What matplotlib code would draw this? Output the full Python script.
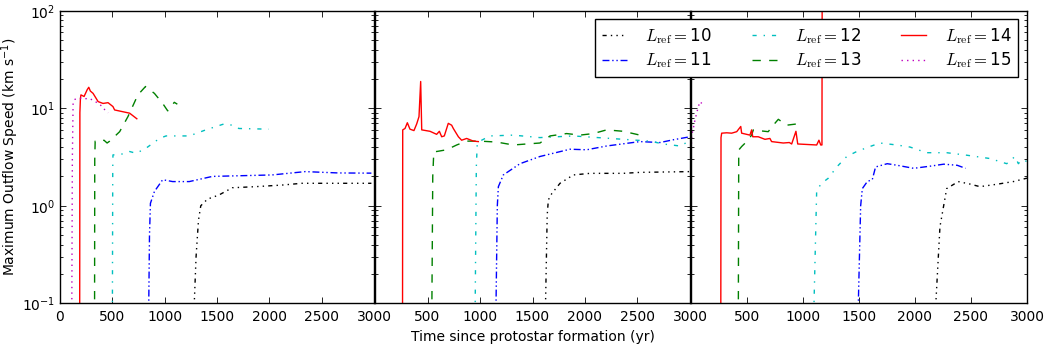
import matplotlib
matplotlib.use("Agg")
import matplotlib.pyplot as plt
from matplotlib.font_manager import FontProperties
from matplotlib.ticker import FixedLocator, LogLocator, NullFormatter

# ---------------- data (time in yr, speed in km/s) ----------------
labels = [r"$L_{\rm ref}=$10", r"$L_{\rm ref}=$11", r"$L_{\rm ref}=$12",
          r"$L_{\rm ref}=$13", r"$L_{\rm ref}=$14", r"$L_{\rm ref}=$15"]
xticks = [0, 500, 1000, 1500, 2000, 2500, 3000]

# Panel 1
t_a10 = [1272, 1300, 1323, 1345, 1409, 1519, 1646, 1868, 2121, 2311, 2975]
v_a10 = [0.05, 0.3, 0.71, 1.0, 1.17, 1.29, 1.53, 1.57, 1.63, 1.70, 1.70]
t_a11 = [845, 855, 864, 902, 981, 1076, 1235, 1456, 2026, 2343, 2659, 2975]
v_a11 = [0.05, 0.5, 1.06, 1.4, 1.85, 1.77, 1.77, 2.0, 2.07, 2.24, 2.17, 2.16]
t_a12 = [500, 504, 506, 600, 665, 728, 823, 950, 1013, 1235, 1393, 1567, 1646, 1709, 1994]
v_a12 = [0.05, 2.5, 3.32, 3.4, 3.6, 3.45, 3.9, 4.9, 5.2, 5.2, 6.0, 6.9, 6.7, 6.2, 6.1]
t_a13 = [330, 332, 336, 380, 420, 450, 475, 570, 649, 744, 817, 902, 981, 1029, 1092, 1121]
v_a13 = [0.05, 3.0, 4.6, 4.5, 4.7, 4.4, 4.6, 5.75, 8.2, 13.7, 16.7, 14.2, 11.2, 9.4, 11.5, 11.0]
t_a14 = [188, 190, 195, 200, 230, 260, 275, 290, 316, 364, 411, 459, 506, 522, 665, 734]
v_a14 = [0.05, 9.0, 12.5, 13.7, 13.2, 15.5, 16.4, 15.0, 14.2, 11.7, 11.2, 11.4, 10.4, 9.6, 8.9, 7.8]
t_a15 = [112, 118, 125, 140, 180, 230, 280, 320, 360, 400, 443, 460]
v_a15 = [0.05, 3.0, 11.0, 12.3, 12.7, 12.5, 12.6, 12.0, 11.3, 10.5, 9.2, 9.0]

# Panel 2
t_b10 = [1619, 1640, 1651, 1683, 1762, 1889, 2048, 2365, 2524, 3000]
v_b10 = [0.05, 0.8, 1.15, 1.33, 1.7, 2.07, 2.15, 2.15, 2.2, 2.24]
t_b11 = [1149, 1165, 1175, 1222, 1381, 1571, 1857, 2016, 2206, 2524, 2714, 2841, 3000]
v_b11 = [0.05, 1.0, 1.57, 2.07, 2.7, 3.2, 3.8, 3.75, 4.1, 4.55, 4.45, 4.75, 5.1]
t_b12 = [952, 965, 974, 1016, 1095, 1317, 1571, 1889, 2365, 2619, 2746, 2905, 2968, 3000]
v_b12 = [0.05, 2.5, 4.4, 4.7, 5.2, 5.3, 5.0, 5.2, 4.8, 4.6, 4.3, 4.1, 4.45, 5.0]
t_b13 = [540, 550, 560, 587, 682, 778, 873, 1000, 1159, 1317, 1444, 1571, 1667, 1825,
         1952, 2079, 2206, 2365, 2524]
v_b13 = [0.05, 2.0, 3.6, 3.6, 3.75, 4.2, 4.6, 4.6, 4.5, 4.2, 4.3, 4.4, 5.2, 5.5,
         5.3, 5.5, 6.0, 5.8, 5.3]
t_b14 = [262, 264, 286, 308, 333, 371, 397, 419, 435, 445, 524, 587, 613, 635, 660,
         698, 730, 746, 794, 825, 873, 937, 984]
v_b14 = [0.05, 6.0, 6.2, 7.1, 6.1, 5.9, 6.9, 8.2, 18.8, 6.0, 5.8, 5.4, 5.8, 5.1, 5.2,
         7.0, 6.7, 6.2, 5.1, 4.7, 4.9, 4.6, 4.55]

# Panel 3
t_c10 = [2173, 2224, 2284, 2387, 2491, 2580, 2729, 2878, 3000]
v_c10 = [0.05, 0.61, 1.5, 1.77, 1.67, 1.57, 1.66, 1.77, 1.92]
t_c11 = [1490, 1517, 1532, 1576, 1621, 1650, 1754, 1843, 1990, 2140, 2258, 2378, 2452]
v_c11 = [0.05, 1.0, 1.5, 1.77, 1.86, 2.5, 2.7, 2.6, 2.42, 2.55, 2.67, 2.6, 2.42]
t_c12 = [1095, 1125, 1170, 1229, 1304, 1393, 1482, 1600, 1689, 1838, 1957, 2105, 2284,
         2462, 2670, 2819, 2893, 2923, 2953, 3000]
v_c12 = [0.05, 1.45, 1.7, 1.92, 2.5, 3.2, 3.6, 4.05, 4.4, 4.2, 4.0, 3.5, 3.5,
         3.3, 3.05, 2.7, 3.2, 2.7, 2.95, 2.85]
t_c13 = [426, 430, 456, 501, 545, 560, 604, 693, 738, 783, 857, 947, 953]
v_c13 = [0.05, 3.73, 4.05, 4.55, 5.3, 6.0, 5.9, 5.75, 6.7, 7.7, 6.7, 6.9, 7.1]
t_c14 = [270, 272, 278, 323, 367, 412, 448, 456, 530, 545, 555, 604, 664, 708, 723,
         827, 881, 902, 940, 956, 1125, 1145, 1161, 1172, 1174]
v_c14 = [0.05, 5.0, 5.55, 5.6, 5.55, 5.75, 6.5, 5.55, 5.3, 6.0, 5.1, 5.1, 4.8, 4.9, 4.55,
         4.4, 4.45, 4.3, 5.8, 4.3, 4.2, 4.7, 4.2, 4.2, 200.0]
t_c15 = [0, 2, 11, 25, 40, 70, 85, 100]
v_c15 = [0.05, 2.7, 5.3, 6.2, 7.6, 10.4, 11.7, 11.2]

# ---------------- styling ----------------
plt.rcParams.update({
    "font.family": "DejaVu Sans",
    "font.size": 10,
    "xtick.direction": "in", "ytick.direction": "in",
    "xtick.top": True, "ytick.right": True,
    "xtick.major.size": 4, "ytick.major.size": 4,
    "ytick.minor.size": 2, "xtick.major.width": 0.6, "ytick.major.width": 0.6,
    "ytick.minor.width": 0.6,
    "axes.linewidth": 1.0,
    "lines.linewidth": 1.0,
})

colors = ["k", (0, 0, 1), (0, 0.75, 0.75), (0, 0.5, 0), (1, 0, 0), (0.75, 0, 0.75)]
dashes = [(3, 3, 1, 3, 1, 3, 1, 3), (5, 2, 1, 2, 1, 2), (3, 5, 1, 5), (6, 6), None, (1, 3)]

fig = plt.figure(figsize=(10.46, 3.44), dpi=100)
W, H = 1046.0, 344.0
bottom, top = 303.3, 10.7
lefts = [60, 375, 690.5]
rights = [374, 690, 1027]
axes = []
for l, r in zip(lefts, rights):
    ax = fig.add_axes([l / W, (H - bottom) / H, (r - l) / W, (bottom - top) / H])
    axes.append(ax)

panels = [
    [(t_a10, v_a10), (t_a11, v_a11), (t_a12, v_a12), (t_a13, v_a13), (t_a14, v_a14), (t_a15, v_a15)],
    [(t_b10, v_b10), (t_b11, v_b11), (t_b12, v_b12), (t_b13, v_b13), (t_b14, v_b14), None],
    [(t_c10, v_c10), (t_c11, v_c11), (t_c12, v_c12), (t_c13, v_c13), (t_c14, v_c14), (t_c15, v_c15)],
]

handles = []
for pi, (ax, series) in enumerate(zip(axes, panels)):
    for si, s in enumerate(series):
        if s is None:
            continue
        kw = dict(color=colors[si], lw=1.0, label=labels[si])
        if dashes[si] is None:
            ln, = ax.plot(s[0], s[1], "-", **kw)
        else:
            ln, = ax.plot(s[0], s[1], "-", dashes=dashes[si], **kw)
        if pi == 0:
            handles.append(ln)
    ax.set_yscale("log")
    ax.set_ylim(0.1, 100)
    ax.set_xlim(0, 3000)
    ax.xaxis.set_major_locator(FixedLocator(xticks))
    ax.yaxis.set_minor_locator(LogLocator(base=10, subs=range(2, 10)))
    ax.yaxis.set_minor_formatter(NullFormatter())
    ax.tick_params(axis="both", which="both", direction="in", top=True, right=True)
    ax.tick_params(axis="x", which="major", pad=5)
    if pi > 0:
        ax.tick_params(axis="y", which="both", labelleft=False)
        ax.set_xticks(xticks)
        ax.set_xticklabels([""] + [str(x) for x in xticks[1:]])

axes[0].set_ylabel(r"Maximum Outflow Speed (km s$^{-1}$)", fontsize=10)
axes[0].yaxis.set_label_coords(-0.125, 0.5)
axes[1].set_xlabel("Time since protostar formation (yr)", fontsize=10)

lp = FontProperties(family="DejaVu Sans", size=12, math_fontfamily="cm")
leg = fig.legend(handles, labels, loc="upper right", bbox_to_anchor=(1018 / W, 1 - 19 / H),
                 bbox_transform=fig.transFigure, ncol=3, prop=lp, fancybox=False,
                 framealpha=1, edgecolor="k", handlelength=1.5, handletextpad=1.1,
                 columnspacing=2.4, borderaxespad=0, labelspacing=0.3)
leg.get_frame().set_linewidth(1.0)
leg.set_zorder(10)

fig.savefig("out.png", dpi=100, facecolor="white")
